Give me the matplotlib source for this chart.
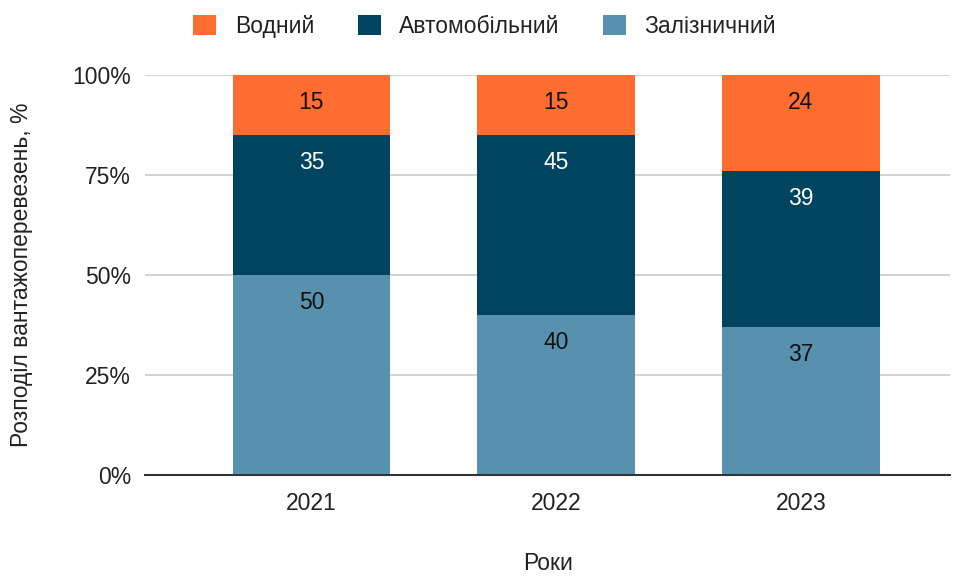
import matplotlib.pyplot as plt
import numpy as np

plt.rcParams['font.family'] = ['Liberation Sans', 'DejaVu Sans']

# Дані
roky = ['2021', '2022', '2023']
zaliznychnyi = [50, 40, 37]
avtomobilnyi = [35, 45, 39]
vodnyi = [15, 15, 24]

kolory = {'Водний': '#FF6D31', 'Автомобільний': '#00445F', 'Залізничний': '#5891AD'}

fig = plt.figure(figsize=(9.54, 5.77), dpi=100)
ax = fig.add_axes([0.152, 0.177, 0.844, 0.693])

x = np.arange(len(roky))
w = 0.645

b1 = ax.bar(x, zaliznychnyi, w, color=kolory['Залізничний'], label='Залізничний', zorder=3)
b2 = ax.bar(x, avtomobilnyi, w, bottom=zaliznychnyi, color=kolory['Автомобільний'], label='Автомобільний', zorder=3)
niz3 = np.array(zaliznychnyi) + np.array(avtomobilnyi)
b3 = ax.bar(x, vodnyi, w, bottom=niz3, color=kolory['Водний'], label='Водний', zorder=3)

# Підписи значень біля верху кожного сегмента
for bars, vals, bottoms, col in [(b1, zaliznychnyi, np.zeros(3), '#111111'),
                                 (b2, avtomobilnyi, np.array(zaliznychnyi), 'white'),
                                 (b3, vodnyi, niz3, '#111111')]:
    for xi, v, b in zip(x, vals, bottoms):
        ax.annotate(str(v), (xi, b + v), xytext=(0, -19.5), textcoords='offset points',
                    ha='center', va='center', fontsize=16.5, color=col, zorder=4)

ax.set_xlim(-0.68, 2.61)
ax.set_ylim(0, 100)
ax.set_yticks([0, 25, 50, 75, 100])
ax.set_yticklabels(['0%', '25%', '50%', '75%', '100%'])
ax.set_xticks(x)
ax.set_xticklabels(roky)
ax.tick_params(axis='both', length=0, labelsize=16.5, colors='#222222')
ax.tick_params(axis='x', pad=12)
ax.tick_params(axis='y', pad=10)
ax.grid(axis='y', color='#cccccc', linewidth=1.2, zorder=0)
for s in ['top', 'right', 'left']:
    ax.spines[s].set_visible(False)
ax.spines['bottom'].set_color('#333333')
ax.spines['bottom'].set_linewidth(1.5)
ax.spines['bottom'].set_zorder(5)

ax.set_xlabel('Роки', fontsize=16.5, color='#222222', labelpad=27)
ax.set_ylabel('Розподіл вантажоперевезень, %', fontsize=16.5, color='#222222', labelpad=28)

handles = [b3, b2, b1]
leg = fig.legend(handles, ['Водний', 'Автомобільний', 'Залізничний'], loc='upper center',
                 bbox_to_anchor=(0.508, 1.01), ncol=3, frameon=False, fontsize=16.5,
                 handlelength=1.0, handleheight=1.0, handletextpad=0.8, columnspacing=1.9)
for t in leg.get_texts():
    t.set_color('#222222')

plt.savefig('out.png', dpi=100)
